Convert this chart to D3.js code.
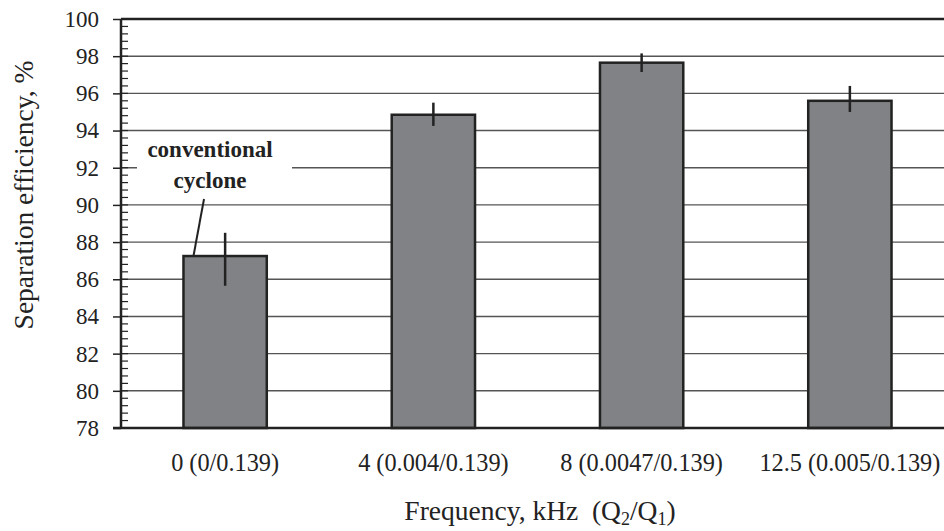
<!DOCTYPE html>
<html>
<head>
<meta charset="utf-8">
<script src="https://cdn.jsdelivr.net/npm/d3@7"></script>
<style>
  html, body { margin: 0; padding: 0; background: #fff; }
  svg { display: block; }
  text { font-family: "Liberation Serif", "Times New Roman", serif; fill: #222; }
</style>
</head>
<body>
<svg id="chart" width="944" height="531"></svg>
<script>
// Separation efficiency by frequency (flow ratio Q2/Q1)
const categories = ["0 (0/0.139)", "4 (0.004/0.139)", "8 (0.0047/0.139)", "12.5 (0.005/0.139)"];
const efficiency = [87.25, 94.85, 97.65, 95.6];
const errLow = [85.65, 94.25, 97.15, 95.0];
const errHigh = [88.5, 95.5, 98.15, 96.4];
const yTicks = [78, 80, 82, 84, 86, 88, 90, 92, 94, 96, 98, 100];
const yDomain = [78, 100];
const minorStep = 0.4;

const svg = d3.select("#chart");
const plotLeft = 121, plotRight = 954, plotTop = 19, plotBottom = 428;

const x = d3.scaleBand().domain(categories).range([plotLeft, plotRight])
  .paddingInner(0.6).paddingOuter(0.3);
const y = d3.scaleLinear().domain(yDomain).range([plotBottom, plotTop]);

// horizontal gridlines
svg.append("g").selectAll("line")
  .data(yTicks.filter(v => v > yDomain[0] && v < yDomain[1]))
  .join("line")
  .attr("x1", plotLeft).attr("x2", 944)
  .attr("y1", d => y(d)).attr("y2", d => y(d))
  .attr("stroke", "#555").attr("stroke-width", 1.4);

// top frame line
svg.append("line")
  .attr("x1", plotLeft).attr("x2", 944)
  .attr("y1", y(100)).attr("y2", y(100))
  .attr("stroke", "#222").attr("stroke-width", 2.5);

// white box behind the annotation text
svg.append("rect")
  .attr("x", 137).attr("y", 140).attr("width", 155).attr("height", 56)
  .attr("fill", "#fff");

// bars
svg.append("g").selectAll("rect")
  .data(efficiency)
  .join("rect")
  .attr("x", (d, i) => x(categories[i]))
  .attr("y", d => y(d))
  .attr("width", x.bandwidth())
  .attr("height", d => y(yDomain[0]) - y(d))
  .attr("fill", "#808285")
  .attr("stroke", "#222")
  .attr("stroke-width", 2.5);

// error bars
svg.append("g").selectAll("line")
  .data(categories)
  .join("line")
  .attr("x1", d => x(d) + x.bandwidth() / 2)
  .attr("x2", d => x(d) + x.bandwidth() / 2)
  .attr("y1", (d, i) => y(errHigh[i]))
  .attr("y2", (d, i) => y(errLow[i]))
  .attr("stroke", "#222").attr("stroke-width", 2.5);

// y axis: major ticks outside with labels
const yAxis = d3.axisLeft(y).tickValues(yTicks).tickSize(8).tickPadding(14)
  .tickFormat(d3.format("d"));
const gy = svg.append("g").attr("transform", `translate(${plotLeft},0)`).call(yAxis);
gy.select(".domain").remove();
gy.selectAll(".tick line").attr("stroke", "#222").attr("stroke-width", 1.5);
gy.selectAll(".tick text")
  .attr("font-size", 23).attr("fill", "#222")
  .attr("font-family", "Liberation Serif, serif");

// minor ticks inside the axis
const minorVals = d3.range(yDomain[0], yDomain[1] + 0.001, minorStep);
svg.append("g").selectAll("line")
  .data(minorVals)
  .join("line")
  .attr("x1", plotLeft).attr("x2", plotLeft + 7)
  .attr("y1", d => y(d)).attr("y2", d => y(d))
  .attr("stroke", "#222").attr("stroke-width", 1.2);

// axis lines
svg.append("line")
  .attr("x1", plotLeft).attr("x2", plotLeft)
  .attr("y1", y(100)).attr("y2", y(78))
  .attr("stroke", "#222").attr("stroke-width", 2.5);
svg.append("line")
  .attr("x1", plotLeft - 8).attr("x2", 944)
  .attr("y1", y(78)).attr("y2", y(78))
  .attr("stroke", "#222").attr("stroke-width", 2.5);

// category labels
svg.append("g").selectAll("text")
  .data(categories)
  .join("text")
  .attr("x", d => x(d) + x.bandwidth() / 2)
  .attr("y", 471)
  .attr("text-anchor", "middle")
  .attr("font-size", 24.3)
  .text(d => d);

// annotation for the first bar
const ann = svg.append("g");
ann.append("text").attr("x", 210).attr("y", 157)
  .attr("text-anchor", "middle").attr("font-size", 23).attr("font-weight", "bold")
  .text("conventional");
ann.append("text").attr("x", 210).attr("y", 188)
  .attr("text-anchor", "middle").attr("font-size", 23).attr("font-weight", "bold")
  .text("cyclone");
ann.append("line")
  .attr("x1", 204).attr("y1", 199)
  .attr("x2", x(categories[0]) + 10).attr("y2", y(efficiency[0]))
  .attr("stroke", "#222").attr("stroke-width", 2);

// axis titles
svg.append("text")
  .attr("transform", "translate(33,195) rotate(-90)")
  .attr("text-anchor", "middle").attr("font-size", 27.5)
  .text("Separation efficiency, %");

const xt = svg.append("text")
  .attr("x", 540).attr("y", 520)
  .attr("text-anchor", "middle").attr("font-size", 27.5);
xt.append("tspan").text("Frequency, kHz\u00a0\u00a0(Q");
xt.append("tspan").attr("font-size", 18).attr("dy", 5).text("2");
xt.append("tspan").attr("dy", -5).text("/Q");
xt.append("tspan").attr("font-size", 18).attr("dy", 5).text("1");
xt.append("tspan").attr("dy", -5).text(")");
</script>
</body>
</html>
